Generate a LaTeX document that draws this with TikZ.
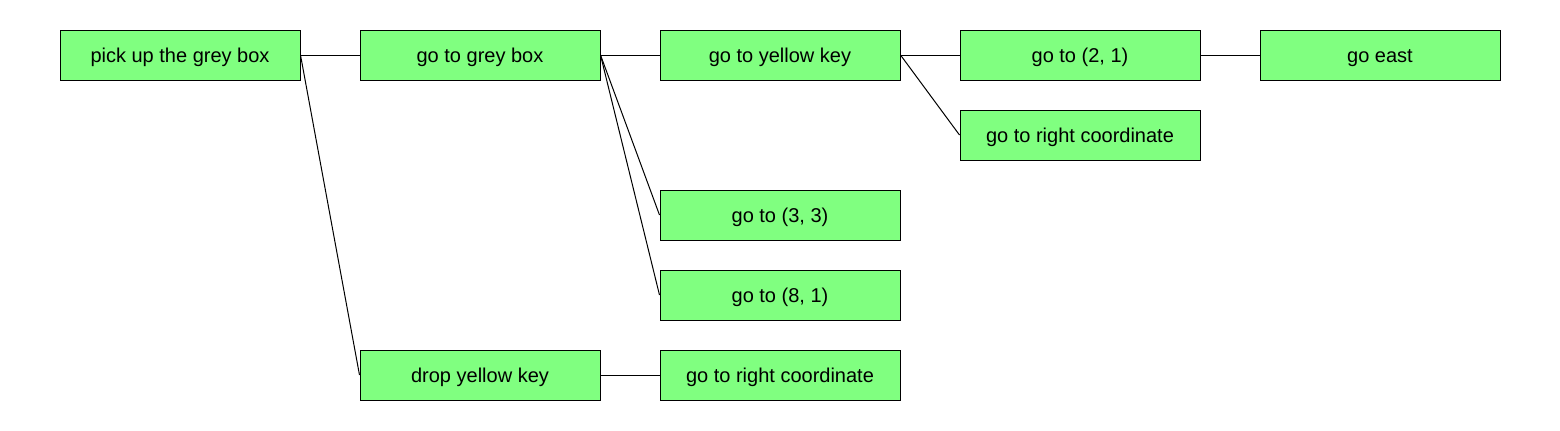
\documentclass[tikz,border=0pt]{standalone}
\usepackage{fontspec}
\setmainfont{Liberation Sans}
\begin{document}
\begin{tikzpicture}[x=0.5pt,y=-0.5pt,
  goal/.style={draw, line width=0.5pt, fill=boxgreen, minimum width=120pt,
    minimum height=25pt, inner sep=0pt, text height=7pt, text depth=0pt,
    font=\fontsize{10}{12}\selectfont},
  link/.style={line width=0.5pt}]
\definecolor{boxgreen}{HTML}{80FF80}
\useasboundingbox (0,0) rectangle (1560,430);

\node[goal] (pick) at (180,55) {pick up the grey box};
\node[goal] (grey) at (480,55) {go to grey box};
\node[goal] (yellow) at (780,55) {go to yellow key};
\node[goal] (two) at (1080,55) {go to (2, 1)};
\node[goal] (east) at (1380,55) {go east};
\node[goal] (right) at (1080,135) {go to right coordinate};
\node[goal] (three) at (780,215) {go to (3, 3)};
\node[goal] (eight) at (780,295) {go to (8, 1)};
\node[goal] (drop) at (480,375) {drop yellow key};
\node[goal] (rightb) at (780,375) {go to right coordinate};

\draw[link] (pick.east) -- (grey.west);
\draw[link] (pick.east) -- (drop.west);
\draw[link] (grey.east) -- (yellow.west);
\draw[link] (grey.east) -- (three.west);
\draw[link] (grey.east) -- (eight.west);
\draw[link] (yellow.east) -- (two.west);
\draw[link] (yellow.east) -- (right.west);
\draw[link] (two.east) -- (east.west);
\draw[link] (drop.east) -- (rightb.west);
\end{tikzpicture}
\end{document}
